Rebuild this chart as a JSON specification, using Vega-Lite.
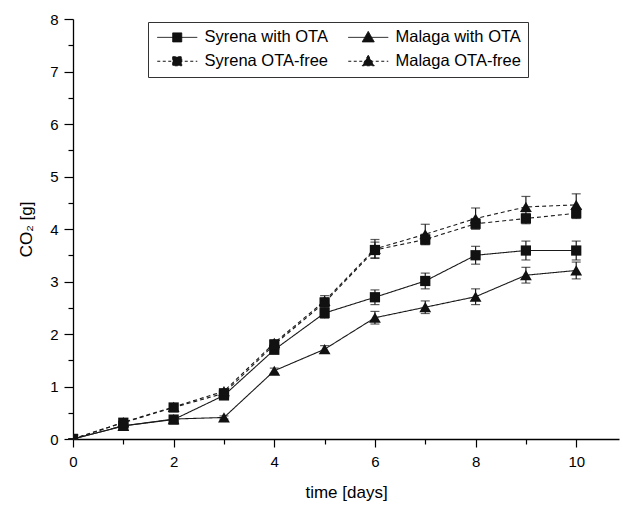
{
  "$schema": "https://vega.github.io/schema/vega-lite/v6.json",
  "width": 546,
  "height": 420,
  "autosize": "none",
  "padding": {"left": 73, "top": 19, "right": 4, "bottom": 66},
  "background": "white",
  "config": {
    "font": "Liberation Sans",
    "view": {"stroke": null},
    "axis": {
      "grid": false,
      "domainColor": "black",
      "tickColor": "black",
      "labelColor": "black",
      "titleColor": "black",
      "labelFontSize": 15,
      "titleFontSize": 17,
      "titleFontWeight": "normal",
      "labelFlush": false,
      "domainWidth": 1.3,
      "tickWidth": 1.2
    },
    "legend": {
      "title": null,
      "orient": "none",
      "legendX": 75,
      "legendY": 3,
      "columns": 2,
      "columnPadding": 18,
      "rowPadding": 7,
      "padding": 7,
      "strokeColor": "#333333",
      "labelFontSize": 16.5,
      "labelColor": "black",
      "labelLimit": 0,
      "labelOffset": 33,
      "symbolSize": 144,
      "symbolStrokeWidth": 1
    }
  },
  "data": {
    "values": [
      {"s": "Syrena with OTA", "d": 0, "v": 0, "e": 0},
      {"s": "Syrena with OTA", "d": 1, "v": 0.25, "e": 0.03},
      {"s": "Syrena with OTA", "d": 2, "v": 0.37, "e": 0.03},
      {"s": "Syrena with OTA", "d": 3, "v": 0.83, "e": 0.04},
      {"s": "Syrena with OTA", "d": 4, "v": 1.70, "e": 0.06},
      {"s": "Syrena with OTA", "d": 5, "v": 2.40, "e": 0.10},
      {"s": "Syrena with OTA", "d": 6, "v": 2.70, "e": 0.14},
      {"s": "Syrena with OTA", "d": 7, "v": 3.01, "e": 0.15},
      {"s": "Syrena with OTA", "d": 8, "v": 3.50, "e": 0.17},
      {"s": "Syrena with OTA", "d": 9, "v": 3.59, "e": 0.18},
      {"s": "Syrena with OTA", "d": 10, "v": 3.59, "e": 0.18},
      {"s": "Malaga with OTA", "d": 0, "v": 0, "e": 0},
      {"s": "Malaga with OTA", "d": 1, "v": 0.25, "e": 0.03},
      {"s": "Malaga with OTA", "d": 2, "v": 0.38, "e": 0.03},
      {"s": "Malaga with OTA", "d": 3, "v": 0.41, "e": 0.03},
      {"s": "Malaga with OTA", "d": 4, "v": 1.30, "e": 0.05},
      {"s": "Malaga with OTA", "d": 5, "v": 1.71, "e": 0.07},
      {"s": "Malaga with OTA", "d": 6, "v": 2.31, "e": 0.12},
      {"s": "Malaga with OTA", "d": 7, "v": 2.51, "e": 0.12},
      {"s": "Malaga with OTA", "d": 8, "v": 2.71, "e": 0.15},
      {"s": "Malaga with OTA", "d": 9, "v": 3.12, "e": 0.15},
      {"s": "Malaga with OTA", "d": 10, "v": 3.21, "e": 0.16},
      {"s": "Syrena OTA-free", "d": 0, "v": 0, "e": 0},
      {"s": "Syrena OTA-free", "d": 1, "v": 0.31, "e": 0.03},
      {"s": "Syrena OTA-free", "d": 2, "v": 0.60, "e": 0.03},
      {"s": "Syrena OTA-free", "d": 3, "v": 0.87, "e": 0.04},
      {"s": "Syrena OTA-free", "d": 4, "v": 1.80, "e": 0.06},
      {"s": "Syrena OTA-free", "d": 5, "v": 2.60, "e": 0.09},
      {"s": "Syrena OTA-free", "d": 6, "v": 3.60, "e": 0.15},
      {"s": "Syrena OTA-free", "d": 7, "v": 3.80, "e": 0.10},
      {"s": "Syrena OTA-free", "d": 8, "v": 4.10, "e": 0.10},
      {"s": "Syrena OTA-free", "d": 9, "v": 4.20, "e": 0.10},
      {"s": "Syrena OTA-free", "d": 10, "v": 4.30, "e": 0.10},
      {"s": "Malaga OTA-free", "d": 0, "v": 0, "e": 0},
      {"s": "Malaga OTA-free", "d": 1, "v": 0.32, "e": 0.03},
      {"s": "Malaga OTA-free", "d": 2, "v": 0.61, "e": 0.03},
      {"s": "Malaga OTA-free", "d": 3, "v": 0.91, "e": 0.04},
      {"s": "Malaga OTA-free", "d": 4, "v": 1.83, "e": 0.06},
      {"s": "Malaga OTA-free", "d": 5, "v": 2.63, "e": 0.10},
      {"s": "Malaga OTA-free", "d": 6, "v": 3.62, "e": 0.18},
      {"s": "Malaga OTA-free", "d": 7, "v": 3.90, "e": 0.19},
      {"s": "Malaga OTA-free", "d": 8, "v": 4.20, "e": 0.20},
      {"s": "Malaga OTA-free", "d": 9, "v": 4.42, "e": 0.20},
      {"s": "Malaga OTA-free", "d": 10, "v": 4.46, "e": 0.21}
    ]
  },
  "encoding": {
    "x": {
      "field": "d",
      "type": "quantitative",
      "scale": {"domain": [0, 10.85], "nice": false, "zero": false},
      "axis": {
        "title": "time [days]",
        "values": [0, 1, 2, 3, 4, 5, 6, 7, 8, 9, 10],
        "format": "d",
        "labelExpr": "datum.value % 2 === 0 ? datum.label : ''",
        "tickSize": {"condition": {"test": "datum.value % 2 === 0", "value": 8}, "value": 5},
        "labelPadding": 7,
        "titlePadding": 15
      }
    },
    "y": {
      "field": "v",
      "type": "quantitative",
      "scale": {"domain": [0, 8], "nice": false},
      "axis": {
        "title": "CO₂ [g]",
        "values": [0, 0.5, 1, 1.5, 2, 2.5, 3, 3.5, 4, 4.5, 5, 5.5, 6, 6.5, 7, 7.5, 8],
        "format": ".0f",
        "labelExpr": "datum.value % 1 === 0 ? datum.label : ''",
        "tickSize": {"condition": {"test": "datum.value % 1 === 0", "value": 9}, "value": 5},
        "labelPadding": 6,
        "titlePadding": 14
      }
    }
  },
  "layer": [
    {
      "mark": {"type": "line", "color": "#1a1a1a", "strokeWidth": 1.1},
      "encoding": {
        "detail": {"field": "s"},
        "strokeDash": {
          "condition": {"test": "indexof(datum.s, 'free') >= 0", "value": [4, 3]},
          "value": [1, 0]
        }
      }
    },
    {
      "mark": {"type": "errorbar", "color": "#1a1a1a", "thickness": 1.2, "ticks": {"size": 9, "thickness": 1.2}},
      "encoding": {
        "detail": {"field": "s"},
        "yError": {"field": "e"}
      }
    },
    {
      "mark": {"type": "point", "filled": true, "color": "#111111", "opacity": 1, "clip": true},
      "encoding": {
        "size": {
          "condition": {"test": "indexof(datum.s, 'Malaga') >= 0", "value": 140},
          "value": 105
        },
        "shape": {
          "condition": {"test": "indexof(datum.s, 'Malaga') >= 0", "value": "triangle-up"},
          "value": "square"
        }
      }
    },
    {
      "transform": [{"filter": "datum.d < 0"}],
      "mark": {"type": "point", "filled": true, "fill": "#111111", "stroke": "#111111", "strokeWidth": 1, "opacity": 1},
      "encoding": {
        "shape": {
          "field": "s",
          "scale": {
            "domain": ["Syrena with OTA", "Syrena OTA-free", "Malaga with OTA", "Malaga OTA-free"],
            "range": [
              "M-1,0H5.67M1.58,-0.75H3.08V0.75H1.58Z",
              "M-1,0H5.67M1.58,-0.75H3.08V0.75H1.58Z",
              "M-1,0H5.67M2.33,-1L3.33,0.75H1.33Z",
              "M-1,0H5.67M2.33,-1L3.33,0.75H1.33Z"
            ]
          },
          "legend": {"title": null}
        },
        "strokeDash": {
          "field": "s",
          "scale": {
            "domain": ["Syrena with OTA", "Syrena OTA-free", "Malaga with OTA", "Malaga OTA-free"],
            "range": [[1, 0], [3, 2.5], [1, 0], [3, 2.5]]
          },
          "legend": {"title": null}
        }
      }
    }
  ]
}
